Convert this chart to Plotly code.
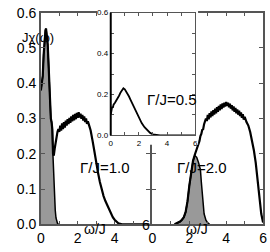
import plotly.graph_objects as go

# ---- data ----
# Gamma/J = 1.0 (left panel): total response and shaded low-energy peak
w_g10 = [0.00, 0.05, 0.10, 0.15, 0.20, 0.25, 0.28, 0.32, 0.37, 0.42, 0.46, 0.50,
         0.54, 0.58, 0.62, 0.66, 0.70, 0.74, 0.78, 0.82, 0.86, 0.90, 0.95]
chi_g10_peak = [0.38, 0.40, 0.42, 0.48, 0.525, 0.55, 0.555, 0.53, 0.51, 0.45, 0.39, 0.34,
                0.30, 0.29, 0.27, 0.19, 0.12, 0.075, 0.04, 0.018, 0.008, 0.003, 0.0]
w_t10 = [0.00, 0.05, 0.10, 0.15, 0.20, 0.25, 0.28, 0.32, 0.37, 0.42,
         0.46, 0.50, 0.54, 0.58, 0.62, 0.66, 0.70, 0.75, 0.80, 0.85,
         0.90, 0.95, 1.00, 1.05, 1.10, 1.15, 1.20, 1.25, 1.30, 1.35,
         1.40, 1.45, 1.50, 1.55, 1.60, 1.65, 1.70, 1.75, 1.80, 1.85,
         1.90, 1.95, 2.00, 2.05, 2.10, 2.15, 2.20, 2.25, 2.30, 2.35,
         2.40, 2.45, 2.50, 2.55, 2.60, 2.65, 2.70, 2.75, 2.80, 2.90,
         3.00, 3.10, 3.20, 3.30, 3.40, 3.50, 3.60, 3.70, 3.80, 3.90,
         4.00, 4.10, 4.20, 4.40, 4.80, 5.20, 5.60, 5.90]
chi_t10 = [0.38, 0.40, 0.42, 0.48, 0.525, 0.55, 0.555, 0.53, 0.51, 0.45,
           0.39, 0.34, 0.30, 0.29, 0.27, 0.20, 0.195, 0.215, 0.235, 0.25,
           0.262, 0.27, 0.262, 0.28, 0.266, 0.286, 0.27, 0.29, 0.274, 0.294,
           0.28, 0.298, 0.284, 0.302, 0.288, 0.306, 0.292, 0.31, 0.295, 0.313,
           0.298, 0.316, 0.302, 0.318, 0.303, 0.314, 0.299, 0.31, 0.294, 0.306,
           0.29, 0.30, 0.285, 0.292, 0.278, 0.275, 0.266, 0.255, 0.238, 0.208,
           0.17, 0.146, 0.12, 0.097, 0.08, 0.066, 0.054, 0.042, 0.03, 0.02,
           0.013, 0.007, 0.003, 0.0, 0.0, 0.0, 0.0, 0.0]

# Gamma/J = 0.5 (inset)
w_g05 = [0.0, 0.05, 0.1, 0.15, 0.2, 0.3, 0.4, 0.5, 0.6, 0.7, 0.8, 0.9, 1.0, 1.1,
         1.2, 1.3, 1.4, 1.5, 1.6, 1.7, 1.8, 1.9, 2.0, 2.2, 2.4, 2.6, 2.8, 3.0,
         3.2, 3.5, 4.0, 5.0, 6.0]
chi_g05 = [0.10, 0.125, 0.14, 0.135, 0.15, 0.16, 0.17, 0.185, 0.195, 0.21, 0.22, 0.23,
           0.225, 0.215, 0.20, 0.19, 0.175, 0.16, 0.145, 0.13, 0.115, 0.10, 0.085,
           0.06, 0.04, 0.025, 0.012, 0.005, 0.002, 0.0, 0.0, 0.0, 0.0]

# Gamma/J = 2.0 (right panel)
w_g20_peak = [1.2, 1.4, 1.5, 1.6, 1.7, 1.8, 1.9, 2.0, 2.1, 2.2, 2.3, 2.4, 2.5, 2.6,
              2.65, 2.7, 2.75, 2.8, 2.9, 3.0, 3.1]
chi_g20_peak = [0.0, 0.004, 0.008, 0.013, 0.02, 0.035, 0.065, 0.11, 0.15, 0.18, 0.195,
                0.19, 0.175, 0.155, 0.12, 0.08, 0.05, 0.03, 0.012, 0.004, 0.0]
w_t20 = [1.2, 1.4, 1.5, 1.6, 1.7, 1.8, 1.9, 2.0, 2.1, 2.2, 2.3,
         2.35, 2.40, 2.45, 2.50, 2.55, 2.60, 2.65, 2.70, 2.75, 2.80,
         2.85, 2.90, 2.95, 3.00, 3.05, 3.10, 3.15, 3.20, 3.25, 3.30,
         3.35, 3.40, 3.45, 3.50, 3.55, 3.60, 3.65, 3.70, 3.75, 3.80,
         3.85, 3.90, 3.95, 4.00, 4.05, 4.10, 4.15, 4.20, 4.25, 4.30,
         4.35, 4.40, 4.45, 4.50, 4.55, 4.60, 4.65, 4.70, 4.75, 4.80,
         4.85, 4.90, 4.95, 5.00,
         5.1, 5.2, 5.3, 5.4, 5.5, 5.6, 5.7, 5.8, 5.9, 6.0]
chi_t20 = [0.0, 0.004, 0.008, 0.013, 0.02, 0.035, 0.065, 0.11, 0.15, 0.18, 0.198,
           0.205, 0.214, 0.22, 0.232, 0.236, 0.25, 0.256, 0.268, 0.27, 0.284,
           0.296, 0.30, 0.293, 0.31, 0.298, 0.315, 0.303, 0.32, 0.307, 0.324,
           0.311, 0.328, 0.315, 0.332, 0.319, 0.336, 0.323, 0.34, 0.327, 0.343,
           0.331, 0.345, 0.334, 0.347, 0.336, 0.345, 0.332, 0.342, 0.328, 0.338,
           0.323, 0.334, 0.319, 0.33, 0.315, 0.326, 0.311, 0.322, 0.307, 0.317,
           0.302, 0.312, 0.297, 0.305,
           0.29, 0.28, 0.262, 0.24, 0.21, 0.175, 0.125, 0.075, 0.03, 0.005]

W, H = 270, 252
FONT = "Liberation Sans, Arial, sans-serif"
GRAY = "#999999"
FRAME = "#555555"


def px(x):
    return x / W


def py(y):
    return 1 - y / H


fig = go.Figure()

# left panel
fig.add_trace(go.Scatter(x=w_g10, y=chi_g10_peak, mode="lines", fill="tozeroy",
                         fillcolor=GRAY, line=dict(color="black", width=1.5),
                         xaxis="x", yaxis="y"))
fig.add_trace(go.Scatter(x=w_t10, y=chi_t10, mode="lines",
                         line=dict(color="black", width=2.2), xaxis="x", yaxis="y"))
# right panel
fig.add_trace(go.Scatter(x=w_g20_peak, y=chi_g20_peak, mode="lines", fill="tozeroy",
                         fillcolor=GRAY, line=dict(color="black", width=1.5),
                         xaxis="x2", yaxis="y2"))
fig.add_trace(go.Scatter(x=w_t20, y=chi_t20, mode="lines",
                         line=dict(color="black", width=2.2), xaxis="x2", yaxis="y2"))
# blank white backing for the inset
fig.add_trace(go.Scatter(x=[], y=[], xaxis="x3", yaxis="y3"))
# inset
fig.add_trace(go.Scatter(x=w_g05, y=chi_g05, mode="lines",
                         line=dict(color="black", width=1.8), xaxis="x4", yaxis="y4"))

common_x = dict(showgrid=False, zeroline=False, showline=True, mirror="ticks",
                linecolor=FRAME, linewidth=1.5, ticks="inside", ticklen=4,
                tickcolor=FRAME, tickwidth=1.2, tick0=0, dtick=2,
                minor=dict(dtick=1, ticks="inside", ticklen=4, tickcolor=FRAME),
                tickfont=dict(size=14, color="black", family=FONT))
common_y = dict(showgrid=False, zeroline=False, showline=True, mirror="ticks",
                linecolor=FRAME, linewidth=1.5, ticks="inside", ticklen=4,
                tickcolor=FRAME, tickwidth=1.2, range=[0, 0.6], tick0=0, dtick=0.1,
                tickformat=".1f",
                tickfont=dict(size=14, color="black", family=FONT))
ydom = [py(231), py(5)]
hidden = dict(visible=True, showgrid=False, zeroline=False, showline=False,
              showticklabels=False, ticks="")

fig.update_layout(
    width=W, height=H, autosize=False,
    margin=dict(l=0, r=0, t=0, b=0),
    paper_bgcolor="white", plot_bgcolor="white",
    showlegend=False,
    font=dict(family=FONT, color="black"),
    xaxis=dict(common_x, domain=[px(38), px(150)], range=[0, 112 / 19], anchor="y"),
    yaxis=dict(common_y, domain=ydom, anchor="x"),
    xaxis2=dict(common_x, domain=[px(153), px(267)], range=[0, 6], anchor="y2"),
    yaxis2=dict(common_y, domain=ydom, anchor="x2", showticklabels=False),
    xaxis3=dict(hidden, domain=[px(96), px(200)], range=[0, 1], anchor="y3"),
    yaxis3=dict(hidden, domain=[py(146), 1], range=[0, 1], anchor="x3"),
    xaxis4=dict(common_x, domain=[px(110), px(197)], range=[0, 6], anchor="y4",
                linewidth=1, ticklen=3, tickwidth=1,
                minor=dict(dtick=1, ticks="inside", ticklen=3, tickcolor=FRAME),
                tickfont=dict(size=8, color="black", family=FONT)),
    yaxis4=dict(common_y, domain=[py(136), py(5)], anchor="x4", dtick=0.2,
                linewidth=1, ticklen=3, tickwidth=1,
                minor=dict(dtick=0.1, ticks="inside", ticklen=3, tickcolor=FRAME),
                tickfont=dict(size=8, color="black", family=FONT)),
)

fig.add_shape(type="line", xref="paper", yref="paper", x0=px(110), x1=px(110),
              y0=py(136), y1=py(5), line=dict(color="black", width=2), layer="above")

ann = [
    ("Jχ(ω)", 16, 21, 13),
    ("Γ/J=1.0", 76, 182, 15),
    ("Γ/J=0.5", 173, 98, 15),
    ("Γ/J=2.0", 232, 182, 15),
    ("ω/J", 94, 247, 14),
    ("ω/J", 212, 247, 14),
    ("6", 146, 242, 14),
]
for t, x, y, s in ann:
    fig.add_annotation(text=t, x=px(x), y=py(y), xref="paper", yref="paper",
                       showarrow=False, font=dict(size=s, color="black", family=FONT))

fig.write_html("out.html", config={"displayModeBar": False},
               post_script="document.body.style.margin='0';"
                           "document.body.style.overflow='hidden';")
